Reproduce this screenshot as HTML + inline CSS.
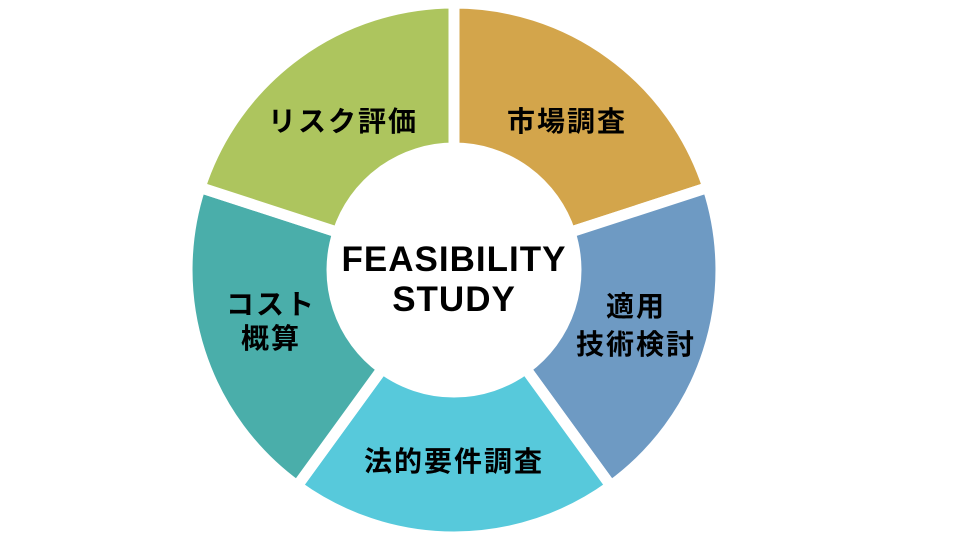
<!DOCTYPE html>
<html><head><meta charset="utf-8"><style>
html,body{margin:0;padding:0;background:#fff;}
svg{display:block;}
text{font-family:"Liberation Sans","Noto Sans CJK JP",sans-serif;font-weight:bold;fill:#000;text-anchor:middle;}
.l{font-size:28px;letter-spacing:2px;}
.c{font-size:35px;letter-spacing:1px;}
</style></head><body>
<svg width="960" height="541" viewBox="0 0 960 541" xmlns="http://www.w3.org/2000/svg">
<g stroke="#fff" stroke-width="11" stroke-linejoin="miter">
<path d="M454,3 A267,267 0 0 1 707.9,187.5 L570,232.3 A122,122 0 0 0 454,148 Z" fill="#D3A54B"/>
<path d="M707.9,187.5 A267,267 0 0 1 610.9,486 L525.7,368.7 A122,122 0 0 0 570,232.3 Z" fill="#6E9AC3"/>
<path d="M610.9,486 A267,267 0 0 1 297.1,486 L382.3,368.7 A122,122 0 0 0 525.7,368.7 Z" fill="#57C9DB"/>
<path d="M297.1,486 A267,267 0 0 1 200.1,187.5 L338,232.3 A122,122 0 0 0 382.3,368.7 Z" fill="#4AAEAA"/>
<path d="M200.1,187.5 A267,267 0 0 1 454,3 L454,148 A122,122 0 0 0 338,232.3 Z" fill="#ADC55E"/>
</g>
<text class="l" x="343" y="131">リスク評価</text>
<text class="l" x="567" y="131">市場調査</text>
<text class="l" x="636" y="316">適用</text>
<text class="l" x="636" y="354">技術検討</text>
<text class="l" x="454" y="471">法的要件調査</text>
<text class="l" x="271" y="314">コスト</text>
<text class="l" x="271" y="348">概算</text>
<text class="c" x="454" y="271">FEASIBILITY</text>
<text class="c" x="454" y="311">STUDY</text>
</svg>
</body></html>
